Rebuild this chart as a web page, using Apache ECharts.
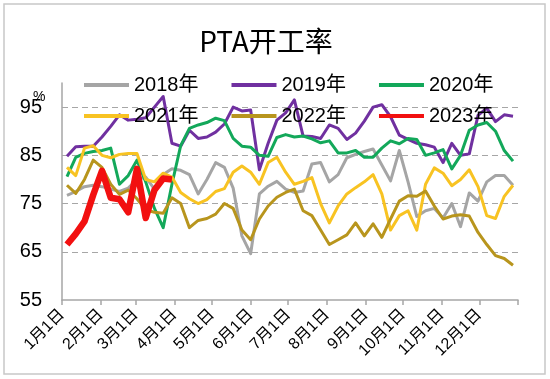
<!DOCTYPE html>
<html><head><meta charset="utf-8">
<script src="https://cdn.jsdelivr.net/npm/echarts@6/dist/echarts.min.js"></script>
<style>html,body{margin:0;padding:0;background:#fff}#c{width:550px;height:379px}</style>
</head><body><div id="c"></div>
<script>
// x positions: day of year of each weekly reading
const weekDays = [4,11,18,25,32,39,46,53,60,67,74,81,88,95,102,109,116,123,130,137,144,151,158,165,172,179,186,193,200,207,214,221,228,235,242,249,256,263,270,277,284,291,298,305,312,319,326,333,340,347,354,361];
const monthStartDays = [0,31,59,90,120,151,181,212,243,273,304,334];
const axisEndDay = 365;
const seriesNames = ['2018年','2019年','2020年','2021年','2022年','2023年'];
const seriesColors = ['#A5A5A5','#7030A0','#13A85A','#F8C322','#B8951D','#F21010'];

const v2018 = [76.7,77.5,78.5,78.8,78.5,78.0,77.5,78.2,80.0,80.5,78.0,81.0,82.2,81.9,81.0,77.0,80.0,83.5,82.5,78.2,68.3,64.6,77.0,78.6,79.6,78.0,77.3,77.6,83.2,83.5,79.5,81.0,84.5,85.2,85.8,86.3,83.0,79.7,86.0,79.5,72.3,73.5,74.0,72.0,75.0,70.2,77.2,75.5,79.5,80.8,80.8,78.8];
const v2019 = [84.8,86.8,86.9,86.9,88.8,91.0,93.4,92.3,92.5,92.8,95.0,97.2,87.5,86.9,90.2,88.5,88.8,89.8,91.5,95.0,94.2,94.4,82.0,87.5,92.3,93.8,96.5,89.0,88.9,88.5,91.3,90.6,88.3,89.6,92.1,95.0,95.5,93.0,89.2,88.3,87.5,87.2,86.7,83.5,87.5,85.0,85.3,93.3,94.8,92.0,93.4,93.1];
const v2020 = [80.6,84.6,85.4,85.8,86.0,86.5,79.0,80.8,84.0,79.5,74.0,70.0,79.0,87.0,90.6,91.3,91.8,92.7,92.2,88.5,86.9,86.7,85.0,84.8,88.7,89.3,88.8,89.0,88.4,87.6,88.0,85.5,85.5,86.0,84.6,84.6,86.5,88.0,87.4,88.5,88.3,85.0,85.5,86.2,82.2,85.0,90.2,91.3,91.8,90.0,86.0,83.8];
const v2021 = [82.5,80.8,86.5,87.0,85.0,84.5,85.2,85.4,85.4,80.0,79.5,81.3,80.5,77.3,76.0,75.0,75.8,77.5,78.1,81.5,82.8,81.5,79.0,83.5,84.6,81.5,79.0,79.6,80.4,75.0,71.0,74.5,77.0,78.3,79.5,81.0,77.0,69.5,72.5,73.5,69.5,79.0,82.4,81.3,78.7,80.0,82.0,78.5,72.5,71.9,76.5,78.8];
const v2022 = [78.8,77.1,80.0,84.0,82.5,79.0,76.9,77.8,76.0,73.7,73.2,73.0,76.2,75.0,70.0,71.5,71.9,72.8,75.0,74.0,69.5,67.5,71.8,74.5,76.3,77.3,78.0,73.5,72.5,69.5,66.5,67.5,68.5,71.0,68.3,70.8,68.0,71.8,75.5,76.6,76.5,77.6,74.5,71.8,72.4,72.7,72.4,69.0,66.5,64.2,63.6,62.2];
const v2023 = [66.5,68.7,71.3,76.8,81.8,76.2,75.9,73.2,82.2,72.0,77.8,80.2,80.0];

const seriesValues = [v2018,v2019,v2020,v2021,v2022,v2023];
const lineWidths = [3,3,3,3,3,6.5];

const FONT = "'Liberation Sans','Noto Sans CJK SC',sans-serif";

function pairs(vals){ return vals.map((v,i)=>[weekDays[i], v]); }

const chart = echarts.init(document.getElementById('c'), null, {renderer:'canvas'});
const series = seriesNames.map((n,k)=>({
  name:n, type:'line', data:pairs(seriesValues[k]), showSymbol:false, symbol:'none',
  lineStyle:{color:seriesColors[k], width:lineWidths[k], join:'round'},
  itemStyle:{color:seriesColors[k]}, z: 2+k, animation:false
}));

const legendCommon = {
  icon:'rect', itemWidth:45, itemHeight:4, itemGap:33, left:79, orient:'horizontal',
  textStyle:{fontSize:20, color:'#000', fontFamily:FONT, padding:[0,0,0,0]},
  selectedMode:false
};

chart.setOption({
  animation:false,
  backgroundColor:'#fff',
  title:{text:'PTA开工率', left:261, textAlign:'center', top:22,
    textStyle:{fontSize:28, fontWeight:'normal', color:'#000', fontFamily:"'Noto Sans CJK SC',sans-serif"}},
  legend:[
    Object.assign({}, legendCommon, {top:70, data:seriesNames.slice(0,3)}),
    Object.assign({}, legendCommon, {top:101, data:seriesNames.slice(3,6)})
  ],
  graphic:[
    {type:'rect', shape:{x:4,y:4,width:541,height:370}, style:{fill:'none', stroke:'#C8C8C8', lineWidth:1.5}, silent:true, z:-1},
    {type:'text', left:33, top:90, style:{text:'%', fontSize:14, fill:'#000', fontFamily:FONT}}
  ],
  grid:{left:62, right:32, top:83, bottom:79, containLabel:false},
  xAxis:{
    type:'value', min:0, max:axisEndDay,
    axisLine:{show:true, lineStyle:{color:'#A6A6A6', width:1.5}},
    axisTick:{show:true, length:5, lineStyle:{color:'#A6A6A6', width:1.5}, customValues:monthStartDays.concat([axisEndDay])},
    axisLabel:{show:true, rotate:45, margin:12, fontSize:16, color:'#000', fontFamily:FONT,
      customValues:monthStartDays,
      formatter:function(v){ const m = monthStartDays.indexOf(Math.round(v)); return m>=0 ? (m+1)+'月1日' : ''; }},
    splitLine:{show:false}
  },
  yAxis:{
    type:'value', min:55, max:100, interval:10,
    axisLine:{show:true, lineStyle:{color:'#A6A6A6', width:1.5}},
    axisTick:{show:false},
    axisLabel:{fontSize:20, color:'#000', margin:20, fontFamily:FONT, showMaxLabel:false,
      formatter:function(v){ return v===100 ? '' : String(v); }},
    splitLine:{show:true, showMinLine:false, showMaxLine:false, lineStyle:{color:'#A6A6A6', type:[6,4], width:1}}
  },
  series:series
});
</script></body></html>
